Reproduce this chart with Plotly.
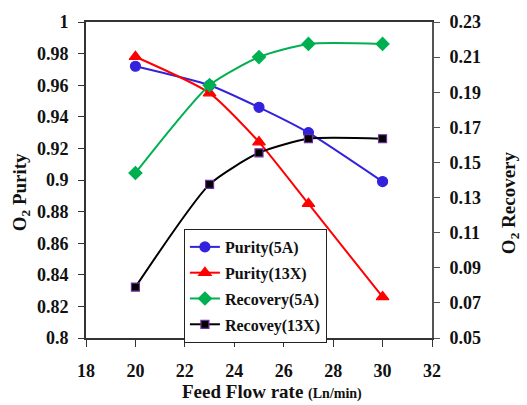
import plotly.graph_objects as go

# Feed flow rate (Ln/min)
flow = [20, 23, 25, 27, 30]

# O2 purity, left axis
purity_5a = [0.972, 0.960, 0.946, 0.930, 0.899]
purity_13x = [0.978, 0.955, 0.924, 0.885, 0.826]

# O2 recovery, right axis
recovery_5a = [0.144, 0.194, 0.210, 0.2175, 0.2175]
recovery_13x = [0.079, 0.1375, 0.1555, 0.1635, 0.1635]

FONT = "Liberation Serif"

fig = go.Figure()

series = [
    ("Purity(5A)", purity_5a, "y", "#3322dd", "circle", 10, "#3322dd"),
    ("Purity(13X)", purity_13x, "y", "#ff0000", "triangle-up", 11, "#ff0000"),
    ("Recovery(5A)", recovery_5a, "y2", "#00b050", "diamond", 10, "#00b050"),
    ("Recovey(13X)", recovery_13x, "y2", "#000000", "square", 8, "#7030a0"),
]

for i, (name, vals, axis, color, symbol, size, edge) in enumerate(series):
    fig.add_trace(go.Scatter(
        x=flow, y=vals, name=name, yaxis=axis, mode="lines+markers",
        line=dict(color=color, width=2, shape="spline", smoothing=0.6),
        marker=dict(symbol=symbol, size=size, color=color,
                    line=dict(color=edge, width=1.2)),
        legendgroup=f"g{i}",
    ))

tickfont = dict(family=FONT, size=18, color="#111111", weight="bold")

fig.update_layout(
    width=527, height=405,
    margin=dict(l=86, r=95, t=17, b=67),
    paper_bgcolor="white", plot_bgcolor="white",
    showlegend=True,
    legend=dict(
        x=0.283, y=0.345, xanchor="left", yanchor="top",
        bgcolor="white", bordercolor="#222222", borderwidth=1,
        font=dict(family=FONT, size=16, color="#111111", weight="bold"),
        tracegroupgap=2,
    ),
    xaxis=dict(
        range=[18, 32], dtick=2, tick0=18,
        showline=True, linecolor="#333333", linewidth=2, mirror=True,
        ticks="outside", ticklen=7, tickcolor="#333333",
        showgrid=False, zeroline=False,
        tickfont=tickfont, ticklabelstandoff=8,
    ),
    yaxis=dict(
        range=[0.8, 1.0], dtick=0.02, tick0=0.8,
        showline=True, linecolor="#333333", linewidth=2,
        ticks="outside", ticklen=6, tickcolor="#333333",
        showgrid=False, zeroline=False,
        tickfont=tickfont, ticklabelstandoff=6,
    ),
    yaxis2=dict(
        range=[0.05, 0.23], dtick=0.02, tick0=0.05,
        overlaying="y", side="right",
        showline=True, linecolor="#555555", linewidth=2,
        ticks="outside", ticklen=6, tickcolor="#555555",
        showgrid=False, zeroline=False,
        tickfont=tickfont, ticklabelstandoff=6,
    ),
)

title_font = dict(family=FONT, size=19, color="#111111", weight="bold")

fig.add_annotation(
    text="O<sub>2</sub> Purity", textangle=-90,
    xref="paper", yref="paper", x=(21 - 86) / 346, y=(338 - 190) / 321,
    xanchor="center", yanchor="middle",
    showarrow=False, font=title_font,
)
fig.add_annotation(
    text="O<sub>2</sub> Recovery", textangle=-90,
    xref="paper", yref="paper", x=(510 - 86) / 346, y=(338 - 201) / 321,
    xanchor="center", yanchor="middle",
    showarrow=False, font=title_font,
)
fig.add_annotation(
    text="Feed Flow rate <span style='font-size:14px'>(Ln/min)</span>",
    xref="paper", yref="paper", x=(272 - 86) / 346, y=(338 - 392) / 321,
    xanchor="center", yanchor="middle",
    showarrow=False, font=dict(family=FONT, size=19, color="#111111", weight="bold"),
)

fig.write_html("out.html")
